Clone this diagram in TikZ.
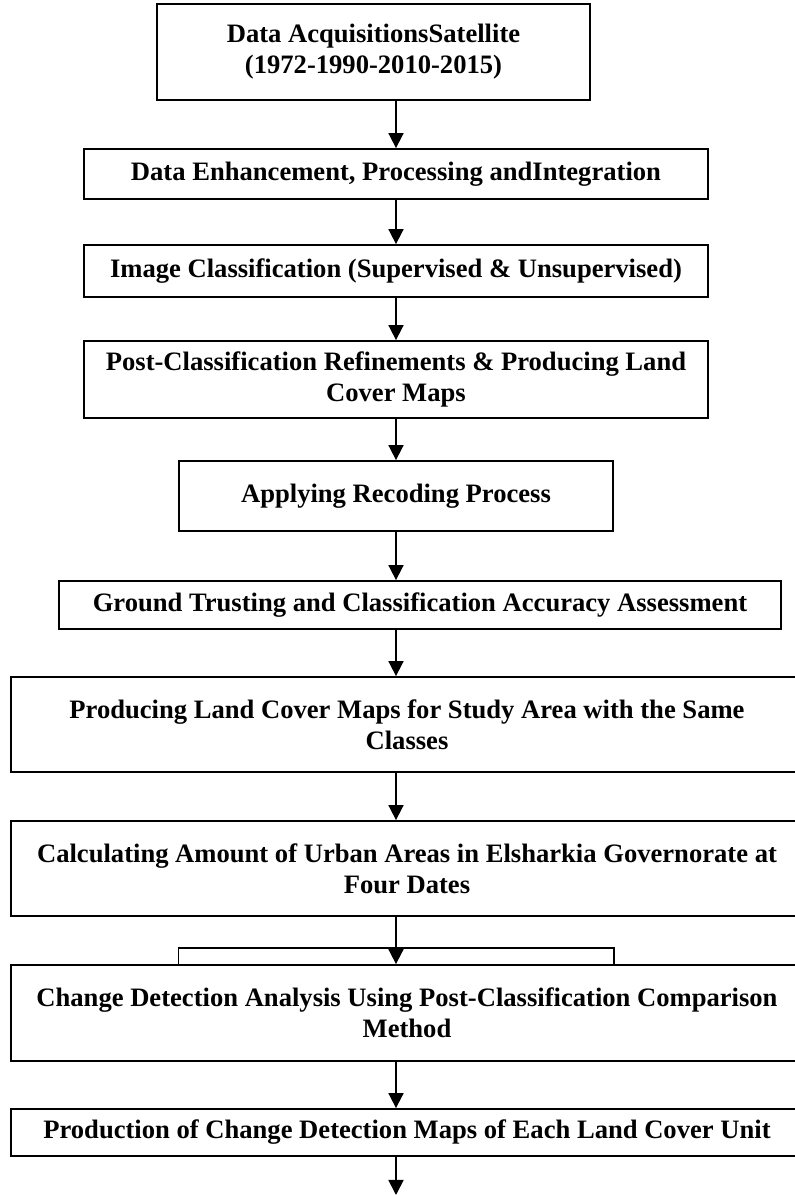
\documentclass[tikz,border=0pt]{standalone}
\usepackage{fontspec}
\setmainfont{Liberation Serif}
\usetikzlibrary{arrows.meta}

\begin{document}
\begin{tikzpicture}[x=1pt, y=1pt,
  box/.style={draw, line width=1.8pt, align=center, inner sep=0pt, font=\fontsize{26.6}{31}\selectfont\bfseries},
  arr/.style={line width=1.8pt, -{Triangle[length=15pt, width=15pt]}}]
  \useasboundingbox (0,0) rectangle (795,1195);

  % Flow boxes
  \node[box, minimum width=433, minimum height=96] (acq) at (373.5,1143) {Data AcquisitionsSatellite\\(1972-1990-2010-2015)};
  \node[box, minimum width=624, minimum height=50] (enh) at (396,1021) {Data Enhancement, Processing andIntegration};
  \node[box, minimum width=624, minimum height=52] (cls) at (396,924) {Image Classification (Supervised \& Unsupervised)};
  \node[box, minimum width=624, minimum height=77] (post) at (396,815.5) {Post-Classification Refinements \& Producing Land\\Cover Maps};
  \node[box, minimum width=434, minimum height=70] (rec) at (396,699) {Applying Recoding Process};
  \node[box, minimum width=722, minimum height=48] (grd) at (420,590) {Ground Trusting and Classification Accuracy Assessment};
  \node[box, minimum width=792, minimum height=95] (lcm) at (407,470.5) {Producing Land Cover Maps for Study Area with the Same\\Classes};
  \node[box, minimum width=792, minimum height=95] (urb) at (407,326.5) {Calculating Amount of Urban Areas in Elsharkia Governorate at\\Four Dates};
  \node[box, minimum width=792, minimum height=96] (chg) at (407,182) {Change Detection Analysis Using Post-Classification Comparison\\Method};
  \node[box, minimum width=792, minimum height=47] (prod) at (407,62.5) {Production of Change Detection Maps of Each Land Cover Unit};

  % Arrow axis
  \coordinate (axis) at (396,0);
  \coordinate (bottom) at (396,0);

  % Arrows
  \draw[arr] (acq.south -| axis) -- (enh.north -| axis);
  \draw[arr] (enh.south -| axis) -- (cls.north -| axis);
  \draw[arr] (cls.south -| axis) -- (post.north -| axis);
  \draw[arr] (post.south -| axis) -- (rec.north -| axis);
  \draw[arr] (rec.south -| axis) -- (grd.north -| axis);
  \draw[arr] (grd.south -| axis) -- (lcm.north -| axis);
  \draw[arr] (lcm.south -| axis) -- (urb.north -| axis);
  \draw[arr] (urb.south -| axis) -- (chg.north -| axis);
  \draw[arr] (chg.south -| axis) -- (prod.north -| axis);
  \draw[arr] (prod.south -| axis) -- (bottom);

  % Bracket over change detection box
  \draw[line width=1.2pt] (chg.north -| rec.west) -- ++(0,16) -| (chg.north -| rec.east);
\end{tikzpicture}
\end{document}
